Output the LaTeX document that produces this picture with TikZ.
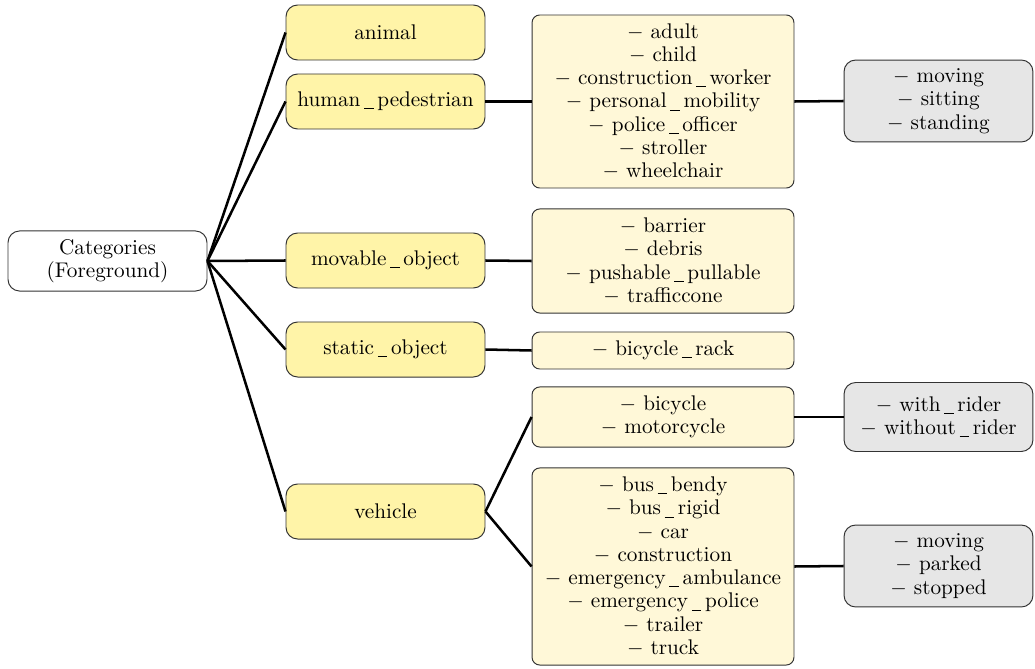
\documentclass[tikz,border=0pt]{standalone}
\usetikzlibrary{positioning}
\definecolor{catfill}{HTML}{FFF4A8}
\definecolor{listfill}{HTML}{FFF8D8}
\definecolor{statefill}{HTML}{E6E6E6}
\definecolor{boxline}{HTML}{333333}
% spaced low rule used as the underscore in labels
\newcommand{\us}{\kern0.17em\rule[-1.3pt]{5pt}{0.45pt}\kern0.17em}
\begin{document}
\begin{tikzpicture}[x=0.5161pt, y=-0.5161pt,
  basebox/.style={draw=boxline, line width=0.5pt, rounded corners=6pt, align=center,
    inner sep=2pt, font=\fontsize{10.95}{12}\selectfont},
  rootbox/.style={basebox, fill=white, minimum width=102.7pt, minimum height=31pt},
  catbox/.style={basebox, fill=catfill, minimum width=102.7pt, minimum height=28.4pt},
  listbox/.style={basebox, fill=listfill, rounded corners=4pt, minimum width=135.2pt},
  statebox/.style={basebox, fill=statefill, minimum width=97.5pt},
  link/.style={line width=1.3pt, black}]
\useasboundingbox (0,0) rectangle (1035,669);

% root
\node[rootbox] (root) at (107.5,261) {Categories\\(Foreground)};

% top-level categories
\node[catbox] (animal) at (385.5,32.5) {animal};
\node[catbox] (human) at (385.5,101.5) {human\us pedestrian};
\node[catbox] (movable) at (385.5,260.5) {movable\us object};
\node[catbox] (static) at (385.5,349.5) {static\us object};
\node[catbox] (vehicle) at (385.5,511.5) {vehicle};

% subcategory lists
\node[listbox, minimum height=89.3pt] (humanlist) at (663,101.5)
  {$-$ adult\\$-$ child\\$-$ construction\us worker\\$-$ personal\us mobility\\$-$ police\us officer\\$-$ stroller\\$-$ wheelchair};
\node[listbox, minimum height=53.7pt] (movlist) at (663,261)
  {$-$ barrier\\$-$ debris\\$-$ pushable\us pullable\\$-$ trafficcone};
\node[listbox, minimum height=19.1pt] (statlist) at (663,350.5)
  {$-$ bicycle\us rack};
\node[listbox, minimum height=31pt] (cyclelist) at (663,417)
  {$-$ bicycle\\$-$ motorcycle};
\node[listbox, minimum height=101.7pt] (carlist) at (663,566.5)
  {$-$ bus\us bendy\\$-$ bus\us rigid\\$-$ car\\$-$ construction\\$-$ emergency\us ambulance\\$-$ emergency\us police\\$-$ trailer\\$-$ truck};

% attribute states
\node[statebox, minimum height=42.3pt] (pedstate) at (938.5,101)
  {$-$ moving\\$-$ sitting\\$-$ standing};
\node[statebox, minimum height=35.6pt] (riderstate) at (938.5,417)
  {$-$ with\us rider\\$-$ without\us rider};
\node[statebox, minimum height=42.3pt] (vehstate) at (938.5,566)
  {$-$ moving\\$-$ parked\\$-$ stopped};

% connectors
\foreach \c in {animal,human,movable,static,vehicle}
  \draw[link] (root.east) -- (\c.west);
\draw[link] (human.east) -- (humanlist.west);
\draw[link] (movable.east) -- (movlist.west);
\draw[link] (static.east) -- (statlist.west);
\draw[link] (vehicle.east) -- (cyclelist.west);
\draw[link] (vehicle.east) -- (carlist.west);
\draw[link] (humanlist.east) -- (pedstate.west);
\draw[link] (cyclelist.east) -- (riderstate.west);
\draw[link] (carlist.east) -- (vehstate.west);
\end{tikzpicture}
\end{document}
